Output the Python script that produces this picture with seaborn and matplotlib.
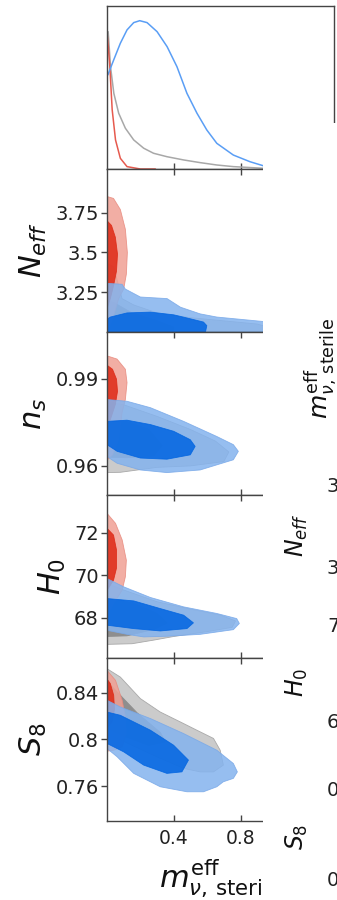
import matplotlib
matplotlib.use("Agg")
import matplotlib.pyplot as plt
import seaborn as sns
import pandas as pd

# ---------------- marginal posterior of the sterile mass ----------------
m_blue_1d = [0.005, 0.04, 0.08, 0.12, 0.16, 0.196, 0.24, 0.30, 0.36, 0.419, 0.479, 0.539, 0.598, 0.658,
             0.757, 0.857, 0.936, 1.05, 1.2]
p_blue_1d = [0.634, 0.735, 0.848, 0.938, 0.987, 1.0, 0.987, 0.926, 0.825, 0.69, 0.51, 0.376, 0.263, 0.173,
             0.094, 0.049, 0.022, 0.008, 0.002]
m_gray_1d = [0.007, 0.021, 0.041, 0.07, 0.11, 0.16, 0.22, 0.279, 0.359, 0.459, 0.558, 0.658, 0.757, 0.936, 1.1]
p_gray_1d = [0.926, 0.69, 0.51, 0.376, 0.275, 0.196, 0.14, 0.106, 0.083, 0.061, 0.043, 0.027, 0.016, 0.005, 0.0]
m_red_1d = [0.0, 0.008, 0.017, 0.031, 0.051, 0.08, 0.12, 0.2, 0.29]
p_red_1d = [0.92, 0.82, 0.69, 0.40, 0.196, 0.072, 0.016, 0.0, 0.0]

# ---------------- 2D credible regions (m_eff, parameter) ----------------
neff_gray_95 = [(0, 3.43), (0.04, 3.41), (0.06, 3.33), (0.09, 3.21), (0.16, 3.17), (0.3, 3.12), (0.5, 3.09),
                (0.7, 3.07), (0.9, 3.05), (1.0, 3.02), (1.0, 3.0), (0, 3.0)]
neff_gray_68 = [(0, 3.2), (0.05, 3.18), (0.15, 3.12), (0.3, 3.07), (0.4, 3.03), (0.4, 3.0), (0, 3.0)]
neff_red_95 = [(0, 3.852), (0.039, 3.84), (0.08, 3.77), (0.11, 3.646), (0.122, 3.50), (0.116, 3.364),
               (0.1, 3.27), (0.07, 3.21), (0.033, 3.08), (0.01, 3.02), (0, 3.0)]
neff_red_68 = [(0, 3.70), (0.027, 3.67), (0.05, 3.596), (0.063, 3.49), (0.057, 3.383), (0.039, 3.29),
               (0.02, 3.21), (0, 3.146)]
neff_blue_95 = [(0, 3.306), (0.09, 3.30), (0.11, 3.27), (0.2, 3.22), (0.36, 3.21), (0.44, 3.156), (0.558, 3.114),
                (0.658, 3.094), (0.797, 3.08), (0.936, 3.066), (1.05, 3.045), (1.08, 3.0), (0, 3.0)]
neff_blue_68 = [(0, 3.08), (0.02, 3.094), (0.12, 3.12), (0.26, 3.125), (0.4, 3.108), (0.5, 3.083),
                (0.578, 3.0625), (0.598, 3.04), (0.59, 3.0), (0, 3.0)]

ns_gray_95 = [(0, 0.982), (0.1, 0.981), (0.3, 0.977), (0.5, 0.9725), (0.65, 0.9685), (0.73, 0.9648),
              (0.70, 0.9615), (0.5, 0.9600), (0.3, 0.9595), (0.17, 0.9585), (0.08, 0.9578), (0, 0.9577)]
ns_gray_68 = [(0, 0.9755), (0.12, 0.9752), (0.25, 0.9725), (0.33, 0.967), (0.28, 0.9635), (0.12, 0.9628),
              (0, 0.963)]
ns_red_95 = [(0, 0.9978), (0.06, 0.9967), (0.11, 0.9932), (0.12, 0.9886), (0.11, 0.9828), (0.09, 0.9782),
             (0.07, 0.969), (0.033, 0.9638), (0, 0.962)]
ns_red_68 = [(0, 0.9946), (0.033, 0.9932), (0.057, 0.9898), (0.063, 0.9856), (0.05, 0.9811), (0.02, 0.9759),
             (0, 0.9742)]
ns_blue_95 = [(0, 0.9828), (0.12, 0.9822), (0.26, 0.98), (0.459, 0.9753), (0.658, 0.9701), (0.757, 0.9673),
              (0.787, 0.965), (0.757, 0.9621), (0.558, 0.9586), (0.359, 0.9577), (0.2, 0.9586), (0.061, 0.9609),
              (0, 0.9632)]
ns_blue_68 = [(0, 0.9753), (0.12, 0.9757), (0.26, 0.9742), (0.399, 0.9719), (0.499, 0.969), (0.528, 0.9667),
              (0.499, 0.9638), (0.359, 0.9623), (0.2, 0.9627), (0.061, 0.965), (0, 0.9673)]

h0_gray_95 = [(0, 69.6), (0.1, 69.3), (0.3, 68.75), (0.5, 68.4), (0.68, 68.12), (0.77, 67.85), (0.75, 67.55),
              (0.6, 67.35), (0.4, 67.12), (0.28, 66.95), (0.15, 66.78), (0, 66.75)]
h0_gray_68 = [(0, 68.9), (0.15, 68.7), (0.3, 68.2), (0.36, 67.75), (0.28, 67.45), (0.12, 67.15), (0, 67.12)]
h0_red_95 = [(0, 72.9), (0.051, 72.43), (0.091, 71.65), (0.116, 70.7), (0.11, 69.92), (0.091, 69.3),
             (0.041, 68.67), (0, 68.1)]
h0_red_68 = [(0, 72.2), (0.039, 71.88), (0.057, 71.18), (0.057, 70.33), (0.039, 69.76), (0.01, 69.4), (0, 69.3)]
h0_blue_95 = [(0, 69.84), (0.1, 69.45), (0.26, 68.95), (0.459, 68.51), (0.658, 68.2), (0.777, 67.96),
              (0.793, 67.73), (0.757, 67.44), (0.558, 67.22), (0.359, 67.13), (0.22, 67.1), (0.12, 67.22),
              (0, 67.41)]
h0_blue_68 = [(0, 68.9), (0.16, 68.79), (0.319, 68.43), (0.459, 68.12), (0.518, 67.76), (0.479, 67.49),
              (0.319, 67.38), (0.16, 67.49), (0, 67.65)]

s8_gray_95 = [(0, 0.8608), (0.08, 0.8536), (0.2, 0.8351), (0.319, 0.8236), (0.439, 0.8151), (0.538, 0.808),
              (0.638, 0.8009), (0.678, 0.7908), (0.697, 0.778), (0.638, 0.7722), (0.558, 0.7722),
              (0.459, 0.7752), (0.3, 0.785), (0.15, 0.795), (0, 0.805)]
s8_gray_68 = [(0, 0.850), (0.06, 0.841), (0.18, 0.823), (0.32, 0.806), (0.35, 0.798), (0.25, 0.795),
              (0.1, 0.803), (0, 0.81)]
s8_red_95 = [(0, 0.8594), (0.051, 0.8508), (0.091, 0.8337), (0.11, 0.8194), (0.116, 0.8051), (0.091, 0.7937),
             (0.041, 0.7908), (0, 0.79)]
s8_red_68 = [(0, 0.852), (0.02, 0.848), (0.04, 0.838), (0.045, 0.826), (0.03, 0.815), (0, 0.81)]
s8_blue_95 = [(0, 0.8337), (0.08, 0.8279), (0.26, 0.818), (0.459, 0.8051), (0.658, 0.7908), (0.757, 0.7794),
              (0.781, 0.7722), (0.757, 0.7666), (0.697, 0.7637), (0.658, 0.7594), (0.578, 0.7551),
              (0.479, 0.7551), (0.319, 0.7594), (0.16, 0.7709), (0.061, 0.7851), (0, 0.7923)]
s8_blue_68 = [(0, 0.8236), (0.08, 0.8208), (0.26, 0.808), (0.399, 0.7951), (0.488, 0.7823), (0.449, 0.7722),
              (0.359, 0.7709), (0.22, 0.778), (0.1, 0.7894), (0, 0.7966)]

# ---------------- axis labels, ticks, limits ----------------
param_labels = [r"$N_{eff}$", r"$n_s$", r"$H_0$", r"$S_8$"]
param_limits = [(3.0, 4.025), (0.950, 1.006), (66.11, 73.76), (0.730, 0.870)]
param_ticks = [[3.25, 3.5, 3.75], [0.96, 0.99], [68, 70, 72], [0.76, 0.80, 0.84]]
param_ticklabels = [["3.25", "3.5", "3.75"], ["0.96", "0.99"], ["68", "70", "72"], ["0.76", "0.8", "0.84"]]
mass_limits = (0.0, 1.36)
mass_ticks = [0.4, 0.8]
mass_ticklabels = ["0.4", "0.8"]
mass_label = r"$m_{\nu,\,\mathrm{sterile}}^{\mathrm{eff}}$"

# labels of the neighbouring column (only their left edge is in frame)
side_labels = [r"$m_{\nu,\,\mathrm{sterile}}^{\mathrm{eff}}$", r"$N_{eff}$", r"$H_0$", r"$S_8$"]
side_ticklabels = ["3", "3", "7", "6", "0", "0"]

regions = [
    (neff_gray_95, neff_gray_68, neff_red_95, neff_red_68, neff_blue_95, neff_blue_68),
    (ns_gray_95, ns_gray_68, ns_red_95, ns_red_68, ns_blue_95, ns_blue_68),
    (h0_gray_95, h0_gray_68, h0_red_95, h0_red_68, h0_blue_95, h0_blue_68),
    (s8_gray_95, s8_gray_68, s8_red_95, s8_red_68, s8_blue_95, s8_blue_68),
]

# ---------------- style ----------------
sns.set_style("ticks")
plt.rcParams["font.family"] = ["DejaVu Sans"]
plt.rcParams["mathtext.fontset"] = "dejavusans"
SPINE = "#444444"

GRAY95, GRAY68 = "#cbcbcb", "#8e8e8e"
RED95, RED68 = "#f0a094", "#de2814"
BLUE95, BLUE68 = "#84b3ee", "#0064e1"
LINE_BLUE, LINE_GRAY, LINE_RED = "#5a9ef5", "#a8a8a8", "#e65a4e"

W, H, DPI = 337, 900, 100
fig = plt.figure(figsize=(W / DPI, H / DPI), dpi=DPI)


def fx(px):
    return px / W


def fy(py):
    return 1 - py / H


LEFT, RIGHT = 107, 334
TOPS = [6, 169, 332, 495, 658]
PH = 163


def make_axes(top):
    ax = fig.add_axes([fx(LEFT), fy(top + PH), (RIGHT - LEFT) / W, PH / H])
    for s in ax.spines.values():
        s.set_color(SPINE)
        s.set_linewidth(1.0)
    ax.set_xlim(*mass_limits)
    ax.set_xticks(mass_ticks)
    return ax


# 1D marginal
ax1 = make_axes(TOPS[0])
for mm, pp, col in [(m_gray_1d, p_gray_1d, LINE_GRAY), (m_red_1d, p_red_1d, LINE_RED),
                    (m_blue_1d, p_blue_1d, LINE_BLUE)]:
    sns.lineplot(data=pd.DataFrame({"m": mm, "p": pp}), x="m", y="p", ax=ax1, color=col,
                 lw=1.1, sort=False, estimator=None)
ax1.set_ylim(0, 1.099)
ax1.set_yticks([])
ax1.set_xlabel("")
ax1.set_ylabel("")
ax1.tick_params(axis="x", direction="in", length=4, width=1, color=SPINE, labelbottom=False)


def fill_region(ax, pts, face, edge, alpha):
    xs = [p[0] for p in pts]
    ys = [p[1] for p in pts]
    ax.fill(xs, ys, facecolor=face, edgecolor=edge, lw=0.6, alpha=alpha, zorder=2)


axes2d = []
for i, top in enumerate(TOPS[1:]):
    ax = make_axes(top)
    g95, g68, r95, r68, b95, b68 = regions[i]
    fill_region(ax, g95, GRAY95, "#a9a9a9", 1.0)
    fill_region(ax, g68, GRAY68, GRAY68, 1.0)
    fill_region(ax, r95, RED95, "#e88a7e", 0.85)
    fill_region(ax, r68, RED68, RED68, 0.85)
    fill_region(ax, b95, BLUE95, "#78a8e8", 0.85)
    fill_region(ax, b68, BLUE68, BLUE68, 0.85)
    ax.set_ylim(*param_limits[i])
    ax.set_yticks(param_ticks[i])
    ax.set_yticklabels(param_ticklabels[i])
    ax.tick_params(axis="y", direction="out", length=4, width=1, color=SPINE, labelsize=14, pad=2,
                   labelcolor="#222222")
    last = i == len(TOPS) - 2
    ax.tick_params(axis="x", direction="in", length=4, width=1, color=SPINE, top=True,
                   labelbottom=last, labelsize=13.5, pad=6, labelcolor="#222222")
    ax.set_ylabel(param_labels[i], fontsize=22, labelpad=4.5, color="#111111")
    axes2d.append(ax)

axb = axes2d[-1]
axb.set_xticklabels(mass_ticklabels)
axb.set_xlabel(mass_label, fontsize=22, color="#111111")
axb.xaxis.set_label_coords(0.5, -0.225)
axb.xaxis.label.set_va("top")

# neighbouring column, drawn over the right-hand part of the panels
ov = fig.add_axes([fx(263), 0, (W - 263) / W, fy(123.3)], zorder=10)
ov.set_facecolor("white")
ov.set_xticks([])
ov.set_yticks([])
for s in ov.spines.values():
    s.set_visible(False)

ov.text(fx(303), fy(368), side_labels[0], transform=fig.transFigure, rotation=90, ha="left",
        va="center", fontsize=18, color="#111111", clip_on=False)
side_pos = [(297, 535), (297, 682), (297, 837)]
for lbl, (px, py) in zip(side_labels[1:], side_pos):
    ov.text(fx(px), fy(py), lbl, transform=fig.transFigure, rotation=90, ha="center", va="center",
            fontsize=17, color="#111111", clip_on=False)
side_tick_y = [487, 569, 627, 723, 790, 880]
for lbl, py in zip(side_ticklabels, side_tick_y):
    ov.text(fx(327), fy(py), lbl, transform=fig.transFigure, ha="left", va="center",
            fontsize=14, color="#222222", clip_on=False)

fig.savefig("out.png", dpi=DPI)
